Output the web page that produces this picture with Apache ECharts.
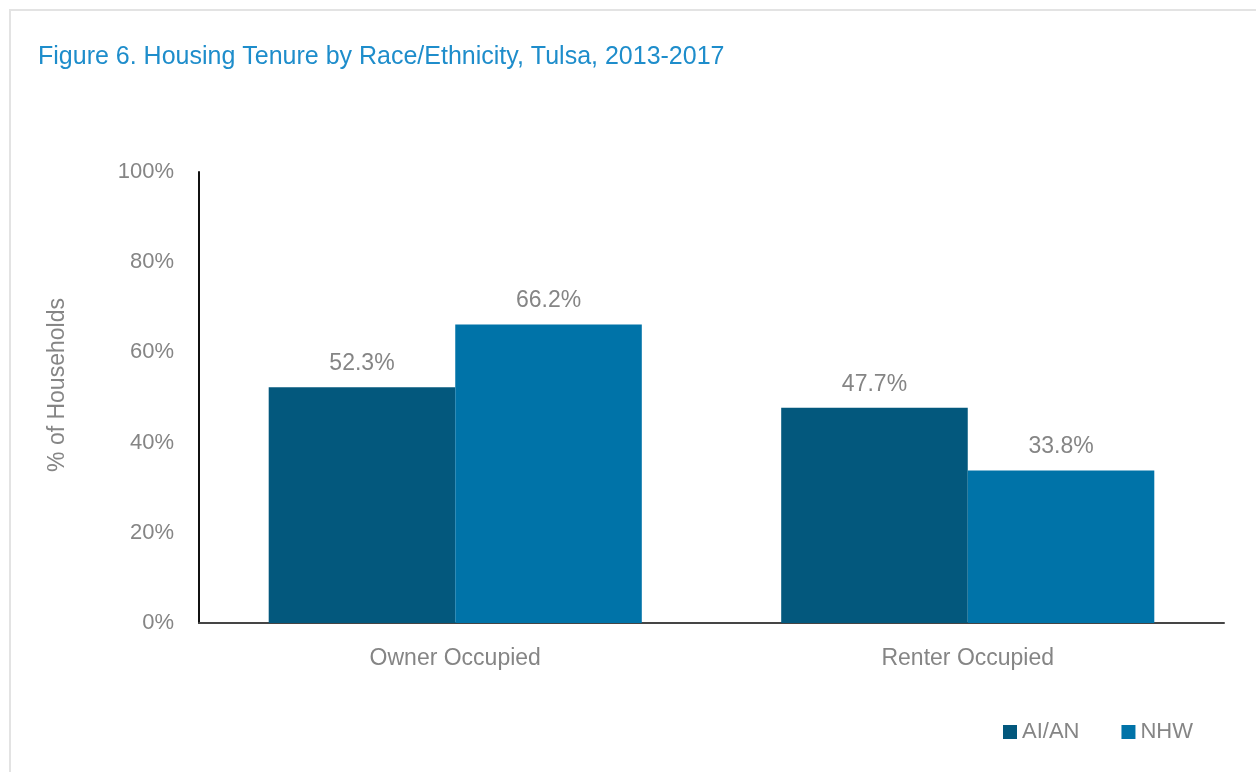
<!DOCTYPE html>
<html>
<head>
<meta charset="utf-8">
<script src="https://cdn.jsdelivr.net/npm/echarts@6/dist/echarts.min.js"></script>
<style>
  html, body { margin: 0; padding: 0; background: #fff; }
  #frame { position: absolute; left: 9px; top: 9px; width: 1260px; height: 780px; border: 2px solid #e3e3e3; box-sizing: border-box; }
  #chart { position: absolute; left: 0; top: 0; width: 1256px; height: 772px; }
</style>
</head>
<body>
<div id="frame"></div>
<div id="chart"></div>
<script>
const titleText = 'Figure 6. Housing Tenure by Race/Ethnicity, Tulsa, 2013-2017';
const categories = ['Owner Occupied', 'Renter Occupied'];
const seriesNames = ['AI/AN', 'NHW'];
const aian = [52.3, 47.7];
const nhw = [66.2, 33.8];
const yTicks = [0, 20, 40, 60, 80, 100];

const FONT = '"Liberation Sans Narrow", "Arial Narrow", "Liberation Sans", sans-serif';
const GRAY = '#858585';

const chart = echarts.init(document.getElementById('chart'), null, { renderer: 'canvas' });

const labelStyle = {
  show: true,
  position: 'top',
  distance: 12,
  color: GRAY,
  fontFamily: FONT,
  fontSize: 23,
  formatter: p => p.value.toFixed(1) + '%'
};

chart.setOption({
  animation: false,
  title: {
    text: titleText,
    left: 33,
    top: 40,
    textStyle: { color: '#1e8dcb', fontFamily: FONT, fontSize: 25, fontWeight: 'normal' }
  },
  legend: {
    data: seriesNames,
    right: 58,
    top: 716,
    icon: 'rect',
    itemWidth: 14,
    itemHeight: 14,
    itemGap: 42,
    textStyle: { color: GRAY, fontFamily: FONT, fontSize: 22 }
  },
  grid: { left: 199, right: 32, top: 172, bottom: 149, containLabel: false },
  xAxis: {
    type: 'category',
    data: categories,
    axisLine: { lineStyle: { color: '#454545', width: 2 } },
    axisTick: { show: false },
    axisLabel: { color: GRAY, fontFamily: FONT, fontSize: 23, margin: 24 }
  },
  yAxis: {
    type: 'value',
    min: yTicks[0],
    max: yTicks[yTicks.length - 1],
    interval: 20,
    axisLine: { show: true, lineStyle: { color: '#111', width: 2 } },
    axisTick: { show: false },
    splitLine: { show: false },
    axisLabel: { color: GRAY, fontFamily: FONT, fontSize: 22, margin: 25, formatter: v => v + '%' }
  },
  graphic: [{
    type: 'text',
    x: 58,
    y: 385,
    rotation: Math.PI / 2,
    style: {
      text: '% of Households',
      fill: GRAY,
      font: '23px ' + FONT,
      textAlign: 'center',
      textVerticalAlign: 'middle'
    }
  }],
  series: [
    { name: seriesNames[0], type: 'bar', data: aian, barGap: '0%', barCategoryGap: '27.2%',
      itemStyle: { color: '#03587d' }, label: labelStyle },
    { name: seriesNames[1], type: 'bar', data: nhw, barGap: '0%', barCategoryGap: '27.2%',
      itemStyle: { color: '#0073a8' }, label: labelStyle }
  ]
});
</script>
</body>
</html>
